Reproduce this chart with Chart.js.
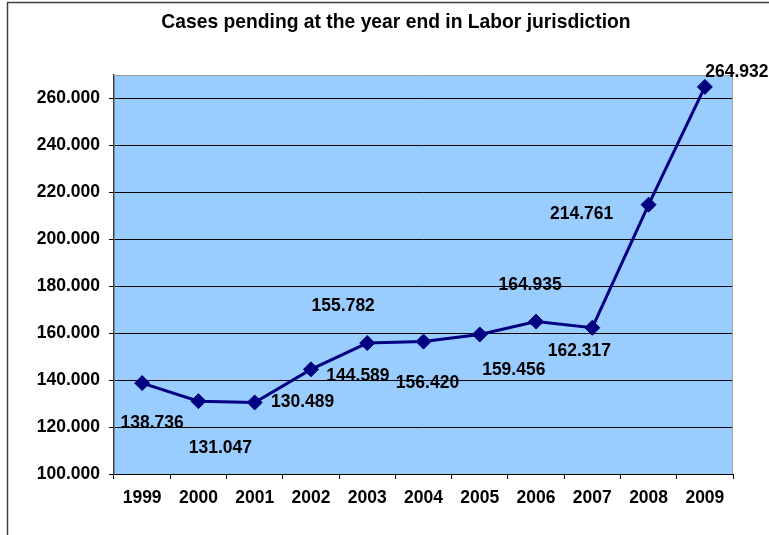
<!DOCTYPE html>
<html>
<head>
<meta charset="utf-8">
<script src="https://cdn.jsdelivr.net/npm/chart.js@4/dist/chart.umd.min.js"></script>
<style>
  html, body { margin: 0; padding: 0; background: #fff; }
  #wrap { width: 769px; height: 535px; position: relative; }
</style>
</head>
<body>
<div id="wrap"><canvas id="casesChart" width="769" height="535"></canvas></div>
<script>
const chartTitle = "Cases pending at the year end in Labor jurisdiction";
const years = ["1999", "2000", "2001", "2002", "2003", "2004", "2005", "2006", "2007", "2008", "2009"];
const pendingCases = [138736, 131047, 130489, 144589, 155782, 156420, 159456, 164935, 162317, 214761, 264932];
const yTicks = [100000, 120000, 140000, 160000, 180000, 200000, 220000, 240000, 260000];
// where each value label sits relative to its marker (px)
const labelOffsets = [
  [10, 40], [22, 47], [48, 0], [47, 7], [-24, -37], [4, 42],
  [34, 36], [-6, -36], [-13, 23], [-67, 10], [32, -15]
];
const yMin = 100000;
const yMax = 270000;

const fmt = (v) => String(v).replace(/\B(?=(\d{3})+(?!\d))/g, ".");
const FONT = "'Liberation Sans', Arial, sans-serif";
const TEXT_SIZE = 17.5;

const frame = {
  id: "frame",
  beforeDraw(chart) {
    const { ctx, chartArea: a } = chart;
    ctx.save();
    ctx.fillStyle = "#99ccff";
    ctx.fillRect(a.left, a.top, a.right - a.left, a.bottom - a.top);
    ctx.strokeStyle = "#404040";
    ctx.lineWidth = 1.5;
    ctx.strokeRect(7.5, 2.5, 900, 700);
    ctx.fillStyle = "#000";
    ctx.font = "bold 19.3px " + FONT;
    ctx.textAlign = "center";
    ctx.textBaseline = "middle";
    ctx.fillText(chartTitle, 396, 23);
    ctx.restore();
  },
  afterDatasetsDraw(chart) {
    const { ctx, chartArea: a } = chart;
    ctx.save();
    ctx.strokeStyle = "#a0a0a0";
    ctx.lineWidth = 1;
    ctx.beginPath();
    ctx.moveTo(a.left, a.top + 0.5);
    ctx.lineTo(a.right - 0.5, a.top + 0.5);
    ctx.lineTo(a.right - 0.5, a.bottom);
    ctx.stroke();
    const meta = chart.getDatasetMeta(0);
    ctx.fillStyle = "#000";
    ctx.font = "bold " + TEXT_SIZE + "px " + FONT;
    ctx.textAlign = "center";
    ctx.textBaseline = "middle";
    meta.data.forEach((pt, i) => {
      const [dx, dy] = labelOffsets[i];
      ctx.fillText(fmt(pendingCases[i]), pt.x + dx, pt.y + dy);
    });
    ctx.restore();
  }
};

new Chart(document.getElementById("casesChart"), {
  type: "line",
  data: {
    labels: years,
    datasets: [{
      data: pendingCases,
      borderColor: "#000080",
      borderWidth: 3,
      backgroundColor: "#000080",
      pointStyle: "rectRot",
      pointRadius: 7.5,
      pointBorderWidth: 1,
      pointBorderColor: "#000080",
      pointBackgroundColor: "#000080",
      tension: 0,
      clip: false
    }]
  },
  options: {
    responsive: false,
    animation: false,
    layout: { padding: { left: 0, right: 36, top: 75, bottom: 0 } },
    plugins: {
      legend: { display: false },
      tooltip: { enabled: false },
      title: { display: false }
    },
    scales: {
      x: {
        offset: true,
        grid: { offset: true, drawOnChartArea: false, tickLength: 5, tickColor: "#000", lineWidth: 1 },
        border: { color: "#000", width: 1 },
        ticks: { color: "#000", padding: 9, maxRotation: 0, autoSkip: false, font: { family: FONT, size: TEXT_SIZE, weight: "bold" } },
        afterFit(s) { s.height = 61; }
      },
      y: {
        min: yMin,
        max: yMax,
        afterBuildTicks(s) { s.ticks = yTicks.map((v) => ({ value: v })); },
        grid: { color: "#000", lineWidth: 1, tickLength: 5, tickColor: "#000" },
        border: { color: "#404040", width: 1.5 },
        ticks: { autoSkip: false, color: "#000", padding: 9, font: { family: FONT, size: TEXT_SIZE, weight: "bold" }, callback: (v) => fmt(v) },
        afterFit(s) { s.width = 114; }
      }
    }
  },
  plugins: [frame]
});
</script>
</body>
</html>
